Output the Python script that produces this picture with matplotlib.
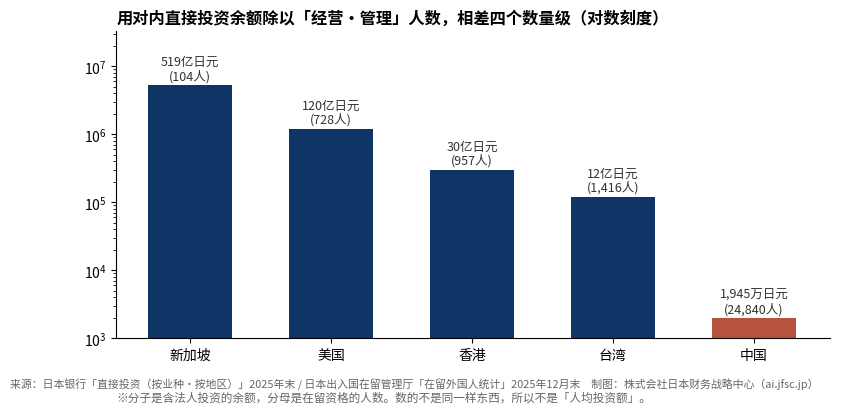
import matplotlib
matplotlib.use("Agg")
import matplotlib.pyplot as plt

plt.rcParams['font.family'] = ['Noto Sans CJK SC', 'DejaVu Sans']

regions = ["新加坡", "美国", "香港", "台湾", "中国"]
amount_man_yen = [5.19e6, 1.20e6, 3.0e5, 1.2e5, 1945]  # 万日元
amount_labels = ["519亿日元", "120亿日元", "30亿日元", "12亿日元", "1,945万日元"]
people = ["104人", "728人", "957人", "1,416人", "24,840人"]
bar_colors = ["#0e3566", "#0e3566", "#0e3566", "#0e3566", "#b5533c"]

fig = plt.figure(figsize=(8.42, 4.14), dpi=100)
ax = fig.add_axes([0.1378, 0.181, 0.848, 0.742])

x = range(len(regions))
bars = ax.bar(x, amount_man_yen, width=0.6, color=bar_colors)
ax.set_yscale('log')
ax.set_ylim(1e3, 3.3e7)
ax.set_xlim(-0.525, 4.54)
ax.set_xticks(list(x))
ax.set_xticklabels(regions, fontsize=10)
ax.tick_params(axis='y', labelsize=10)

for b, a, p in zip(bars, amount_labels, people):
    ax.annotate(f"{a}\n({p})", (b.get_x() + b.get_width() / 2, b.get_height()),
                xytext=(0, 2), textcoords='offset points',
                ha='center', va='bottom', fontsize=9, color='#333333',
                linespacing=1.1)

ax.spines['top'].set_visible(False)
ax.spines['right'].set_visible(False)

fig.text(117 / 842, 1 - 18 / 414,
         "用对内直接投资余额除以「经营•管理」人数，相差四个数量级（对数刻度）",
         fontsize=11.7, fontweight='bold', ha='left', va='center')

fig.text(10 / 842, 1 - 385 / 414,
         "来源：日本银行「直接投资（按业种·按地区）」2025年末 / 日本出入国在留管理厅「在留外国人统计」2025年12月末　制图：株式会社日本财务战略中心（ai.jfsc.jp）",
         fontsize=7.85, color='#666666', ha='left', va='center')
fig.text(116 / 842, 1 - 398 / 414,
         "※分子是含法人投资的余额，分母是在留资格的人数。数的不是同一样东西，所以不是「人均投资额」。",
         fontsize=8.4, color='#666666', ha='left', va='center')

fig.savefig("out.png", dpi=100)
